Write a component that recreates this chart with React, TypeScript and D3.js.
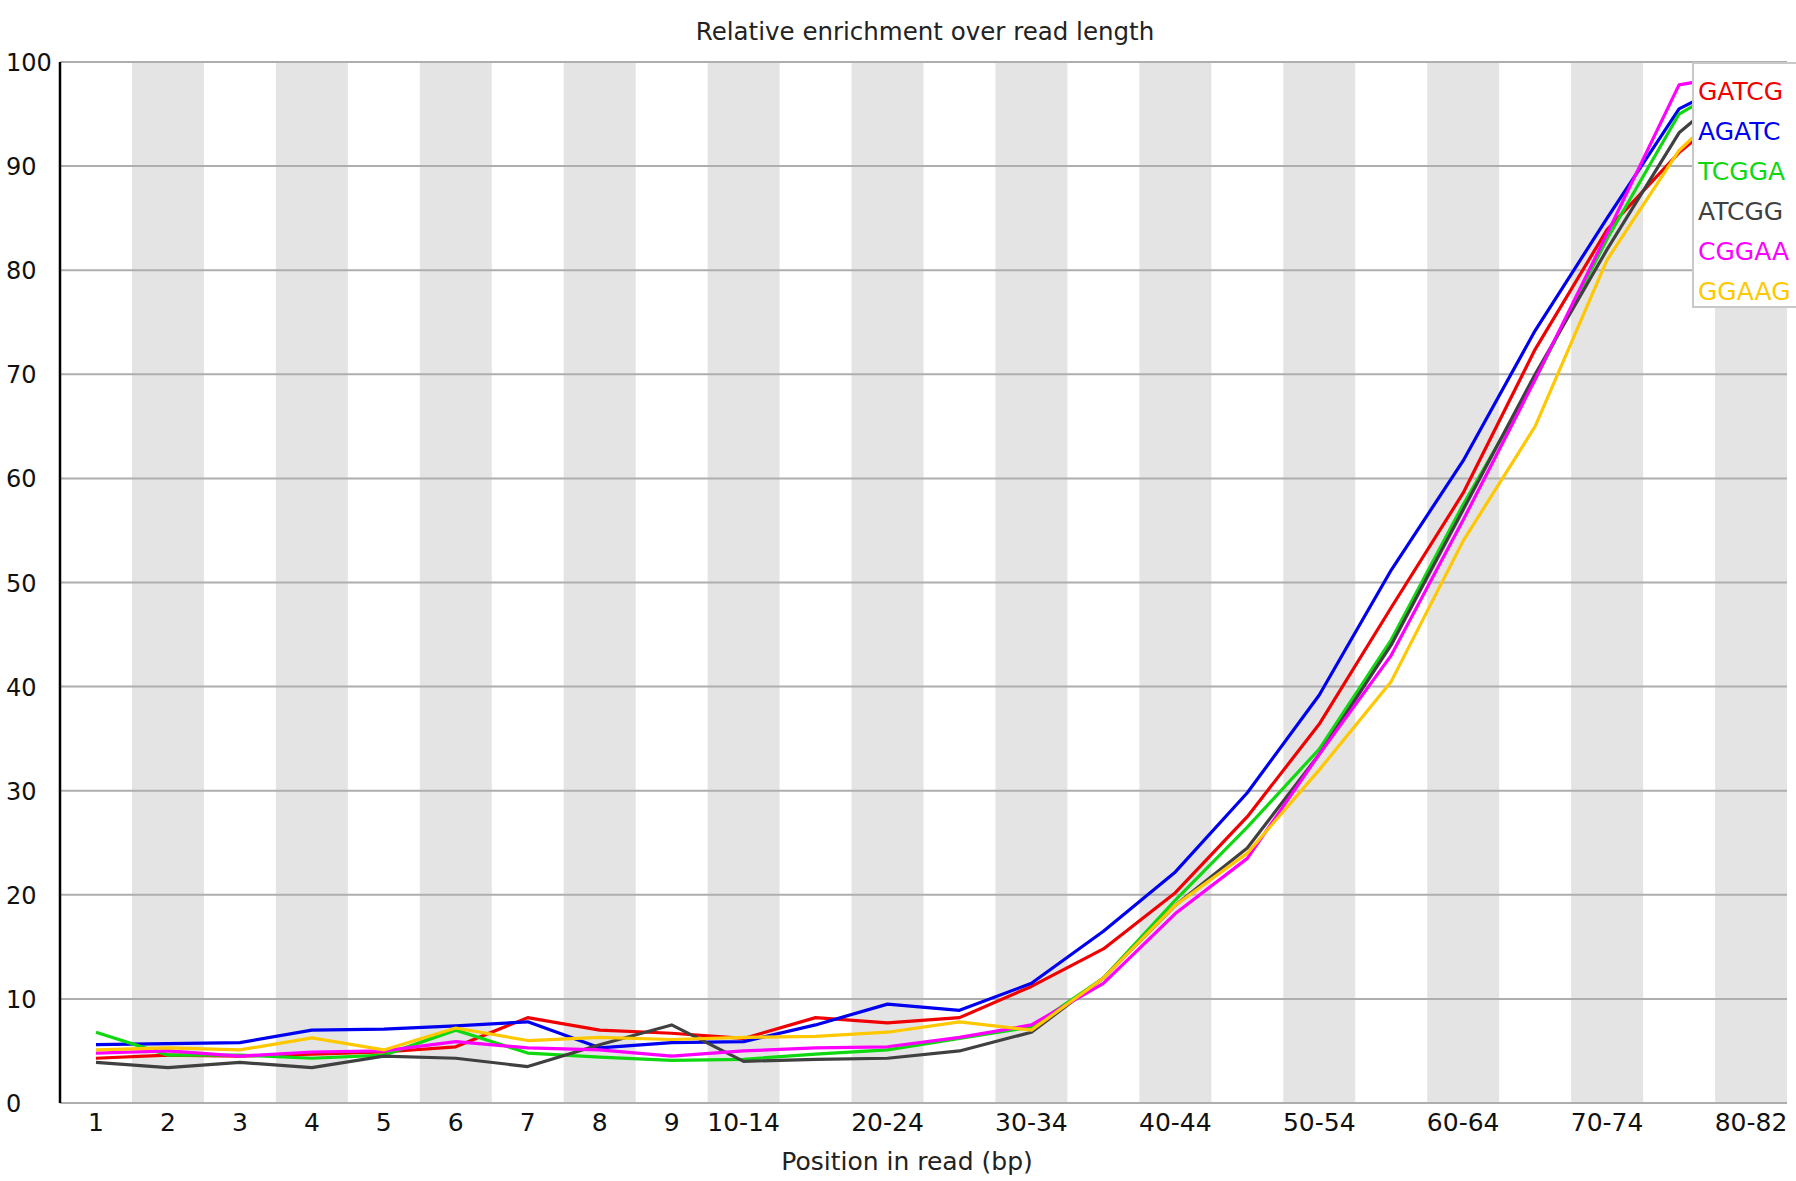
import React from 'react';
import * as d3 from 'd3';

const categories = [
  '1', '2', '3', '4', '5', '6', '7', '8', '9',
  '10-14', '15-19', '20-24', '25-29', '30-34', '35-39', '40-44', '45-49',
  '50-54', '55-59', '60-64', '65-69', '70-74', '75-79', '80-82',
];

// only every other grouped label is printed on the axis
const shownLabels = [
  '1', '2', '3', '4', '5', '6', '7', '8', '9',
  '10-14', '20-24', '30-34', '40-44', '50-54', '60-64', '70-74', '80-82',
];

const yTicks = [0, 10, 20, 30, 40, 50, 60, 70, 80, 90, 100];

const kmers = ['GATCG', 'AGATC', 'TCGGA', 'ATCGG', 'CGGAA', 'GGAAG'];
const colors = ['#f00000', '#0000f0', '#10d810', '#404040', '#ff00ff', '#ffc800'];

const gatcg = [4.3, 4.6, 4.5, 4.7, 4.9, 5.4, 8.2, 7.0, 6.7, 6.2, 8.2, 7.7, 8.2, 11.2, 14.8, 20.2, 27.5, 36.4, 47.6, 58.6, 72.4, 83.9, 91.3, 97];
const agatc = [5.6, 5.7, 5.8, 7.0, 7.1, 7.4, 7.8, 5.3, 5.8, 5.9, 7.5, 9.5, 8.9, 11.5, 16.5, 22.2, 29.8, 39.2, 51.2, 61.7, 74.2, 85, 95.5, 99];
const tcgga = [6.8, 4.6, 4.6, 4.3, 4.6, 7.0, 4.8, 4.4, 4.1, 4.2, 4.7, 5.1, 6.2, 7.3, 12, 19.5, 26.5, 34, 44.5, 57.5, 69.5, 83, 95, 99];
const atcgg = [3.9, 3.4, 3.9, 3.4, 4.5, 4.3, 3.5, 5.6, 7.5, 4.0, 4.2, 4.3, 5.0, 6.8, 12, 19, 24.5, 33.5, 44, 57, 70, 82, 93.2, 99];
const cggaa = [4.8, 5.0, 4.5, 4.9, 5.0, 5.9, 5.3, 5.1, 4.5, 5.0, 5.3, 5.4, 6.3, 7.5, 11.5, 18.2, 23.5, 33.5, 43, 56, 69.5, 83.5, 97.8, 99];
const ggaag = [5.1, 5.3, 5.1, 6.25, 5.1, 7.2, 6.0, 6.3, 6.1, 6.3, 6.4, 6.8, 7.8, 7.0, 12, 19, 24, 32, 40.5, 54, 65, 81, 91.5, 98];

const series = [gatcg, agatc, tcgga, atcgg, cggaa, ggaag];

const W = 1796;
const H = 1181;
const margin = { top: 62, right: 9, bottom: 78, left: 60 };
const font = "'DejaVu Sans', sans-serif";

const App = () => {
  const x = d3.scaleBand().domain(categories).range([margin.left, W - margin.right]);
  const y = d3.scaleLinear().domain([0, 100]).range([H - margin.bottom, margin.top]);

  const line = d3.line<number>()
    .x((_, i) => x(categories[i])! + x.bandwidth() / 2)
    .y(d => y(d));

  return (
    <div style={{ position: 'absolute', left: 0, top: 0 }}>
      <svg width={W} height={H} style={{ display: 'block', background: '#fff' }}>
        <defs>
          <clipPath id="plotClip">
            <rect x={margin.left} y={margin.top} width={W - margin.right - margin.left} height={y(0) - margin.top} />
          </clipPath>
        </defs>

        {/* alternating band shading */}
        {categories.map((c, i) => i % 2 === 1 && (
          <rect key={c} x={x(c)} y={margin.top} width={x.bandwidth()} height={y(0) - margin.top} fill="#e4e4e4" />
        ))}

        {/* horizontal grid */}
        {yTicks.map(t => (
          <line key={t} x1={margin.left} x2={W - margin.right} y1={y(t)} y2={y(t)} stroke="#aeaeae" strokeWidth={2} />
        ))}

        {/* y tick labels */}
        {yTicks.map(t => (
          <text key={t} x={6} y={y(t) + 9} fontFamily={font} fontSize={24} fill="#111">{t}</text>
        ))}

        {/* x tick labels */}
        {shownLabels.map(c => (
          <text key={c} x={x(c)! + x.bandwidth() / 2} y={1131} textAnchor="middle" fontFamily={font} fontSize={25} fill="#111">{c}</text>
        ))}

        <g clipPath="url(#plotClip)">
          {series.map((s, i) => (
            <path key={kmers[i]} d={line(s)!} fill="none" stroke={colors[i]} strokeWidth={3.2} strokeLinejoin="round" />
          ))}
        </g>

        {/* y axis */}
        <line x1={margin.left} x2={margin.left} y1={margin.top} y2={y(0)} stroke="#000" strokeWidth={2.5} />

        {/* title */}
        <text x={925} y={40} textAnchor="middle" fontFamily={font} fontSize={24.5} fill="#222">Relative enrichment over read length</text>

        {/* axis title */}
        <text x={907} y={1170} textAnchor="middle" fontFamily={font} fontSize={25} fill="#222">Position in read (bp)</text>

        {/* legend */}
        <rect x={1693} y={63} width={110} height={244} fill="#fff" stroke="#c8c8c8" strokeWidth={2} />
        {kmers.map((k, i) => (
          <text key={k} x={1698} y={100 + i * 40} fontFamily={font} fontSize={25} fill={colors[i]}>{k}</text>
        ))}
      </svg>
    </div>
  );
};

export default App;
